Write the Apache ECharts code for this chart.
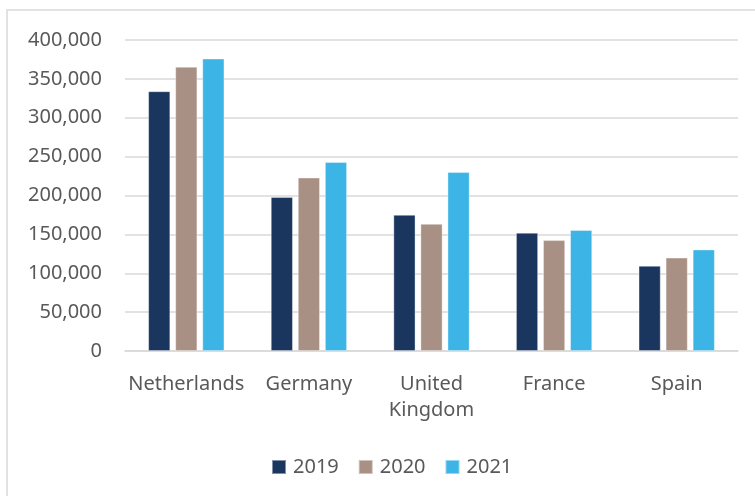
<!DOCTYPE html>
<html>
<head>
<meta charset="utf-8">
<script src="https://cdn.jsdelivr.net/npm/echarts@6/dist/echarts.min.js"></script>
<style>
  html, body { margin: 0; padding: 0; background: #ffffff; }
  #chart { width: 755px; height: 496px; }
</style>
</head>
<body>
<div id="chart"></div>
<script>
// Countries on the x axis
const countries = ['Netherlands', 'Germany', 'United\nKingdom', 'France', 'Spain'];
// Yearly values per country
const years = ['2019', '2020', '2021'];
const values2019 = [334000, 198000, 175000, 152000, 109500];
const values2020 = [365500, 223000, 163500, 142500, 120000];
const values2021 = [376000, 243000, 230000, 155500, 130500];
const yearColors = ['#1A365E', '#A99084', '#3CB4E6'];

const FONT = '"Noto Sans", "Open Sans", sans-serif';
const TEXT = '#595959';

const chart = echarts.init(document.getElementById('chart'), null, { renderer: 'canvas' });

const seriesValues = [values2019, values2020, values2021];

chart.setOption({
  backgroundColor: '#ffffff',
  animation: false,
  graphic: [{
    type: 'rect',
    shape: { x: 7, y: 10, width: 800, height: 600 },
    style: { fill: 'none', stroke: '#d9d9d9', lineWidth: 1.5 },
    silent: true
  }],
  grid: { left: 125, right: 17, top: 40, bottom: 145 },
  legend: {
    top: 452,
    left: 266,
    itemWidth: 14,
    itemHeight: 14,
    itemGap: 19,
    icon: 'rect',
    textStyle: { fontFamily: FONT, fontSize: 20, color: TEXT, padding: [0, 0, 0, 2] },
    data: years
  },
  xAxis: {
    type: 'category',
    data: countries,
    axisLine: { show: true, lineStyle: { color: '#d9d9d9', width: 1.5 } },
    axisTick: { show: false },
    axisLabel: {
      fontFamily: FONT, fontSize: 20, color: TEXT,
      margin: 20, lineHeight: 26, interval: 0
    }
  },
  yAxis: {
    type: 'value',
    min: 0,
    max: 400000,
    interval: 50000,
    axisLine: { show: false },
    axisTick: { show: false },
    splitLine: { lineStyle: { color: '#d9d9d9', width: 1.5 } },
    axisLabel: {
      fontFamily: FONT, fontSize: 20, color: TEXT, margin: 23,
      formatter: v => v.toLocaleString('en-US')
    }
  },
  series: years.map((y, i) => ({
    name: y,
    type: 'bar',
    data: seriesValues[i],
    barWidth: 22,
    barGap: '23%',
    itemStyle: { color: yearColors[i], borderColor: 'rgba(255,255,255,0.45)', borderWidth: 0.8 }
  }))
});
</script>
</body>
</html>
